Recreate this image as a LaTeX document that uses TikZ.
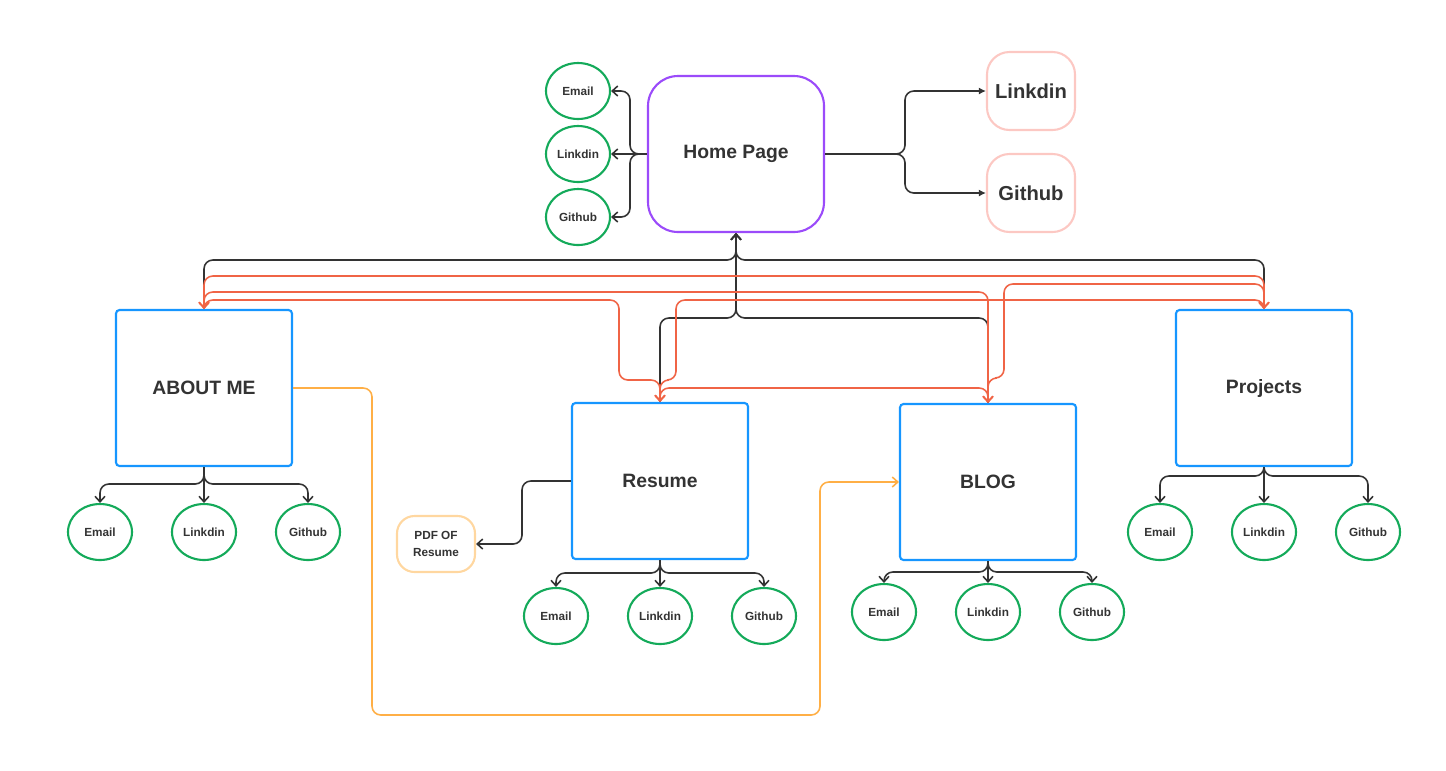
\documentclass[tikz,border=0pt]{standalone}
\usepackage{fontspec}
\setmainfont{Liberation Sans}
\usepackage{xcolor}
\usetikzlibrary{arrows.meta,shapes.geometric}
\definecolor{pageblue}{RGB}{22,150,255}
\definecolor{homepurple}{RGB}{155,75,250}
\definecolor{circgreen}{RGB}{20,170,90}
\definecolor{linkred}{RGB}{240,100,70}
\definecolor{softpink}{RGB}{252,200,195}
\definecolor{softorange}{RGB}{255,215,160}
\definecolor{lineorange}{RGB}{255,175,70}
\definecolor{textgray}{RGB}{51,51,51}

\begin{document}
\begin{tikzpicture}[>={Straight Barb[length=1.1mm,width=2mm]},
	every node/.style={text=textgray},
	pagebox/.style={draw=pageblue,line width=1.2pt,rounded corners=2pt,minimum width=3.52cm,minimum height=3.12cm,font=\bfseries\fontsize{11}{13}\selectfont},
	homebox/.style={draw=homepurple,line width=1.2pt,rounded corners=0.6cm,minimum width=3.52cm,minimum height=3.12cm,font=\bfseries\fontsize{11}{13}\selectfont},
	subcirc/.style={ellipse,draw=circgreen,line width=1.2pt,minimum width=1.28cm,minimum height=1.12cm,inner sep=0pt,font=\bfseries\fontsize{6.7}{8}\selectfont},
	socialbox/.style={draw=softpink,line width=1.2pt,rounded corners=0.45cm,minimum width=1.76cm,minimum height=1.56cm,font=\bfseries\fontsize{11.5}{13}\selectfont},
	pdfbox/.style={draw=softorange,line width=1.2pt,rounded corners=0.35cm,minimum width=1.56cm,minimum height=1.12cm,align=center,font=\bfseries\fontsize{6.7}{9.7}\selectfont},
	wire/.style={draw=textgray,line width=0.9pt,rounded corners=5pt},
	redwire/.style={draw=linkred,line width=0.9pt,rounded corners=5pt},
	orangewire/.style={draw=lineorange,line width=0.9pt,rounded corners=5pt}]
	\useasboundingbox (0,0) rectangle (28.92,-15.4);

	% home page and its links
	\node[homebox] (home) at (14.72,-3.08) {Home Page};
	\node[subcirc] (homemail) at (11.56,-1.82) {Email};
	\node[subcirc] (homelink) at (11.56,-3.08) {Linkdin};
	\node[subcirc] (homegit) at (11.56,-4.34) {Github};
	\node[socialbox] (socialin) at (20.62,-1.82) {Linkdin};
	\node[socialbox] (socialgit) at (20.62,-3.86) {Github};
	\draw[wire,->] (home.west) -- (12.6,-3.08) |- (homemail.east);
	\draw[wire,->] (home.west) -- (homelink.east);
	\draw[wire,->] (home.west) -- (12.6,-3.08) |- (homegit.east);
	\draw[wire,-{Latex[length=1.4mm,width=1.4mm]}] (home.east) -- (18.1,-3.08) |- (socialin.west);
	\draw[wire,-{Latex[length=1.4mm,width=1.4mm]}] (home.east) -- (18.1,-3.08) |- (socialgit.west);

	% pages
	\node[pagebox] (about) at (4.08,-7.76) {ABOUT ME};
	\node[pagebox] (resume) at (13.2,-9.62) {Resume};
	\node[pagebox] (blog) at (19.76,-9.64) {BLOG};
	\node[pagebox] (proj) at (25.28,-7.76) {Projects};
	\node[pdfbox] (pdf) at (8.72,-10.88) {PDF OF\\Resume};

	% back to home
	\draw[wire,->] (about.north) |- (14.72,-5.2) -- (home.south);
	\draw[wire,->] (proj.north) |- (14.72,-5.2) -- (home.south);
	\draw[wire,->] (resume.north) |- (14.72,-6.36) -- (home.south);
	\draw[wire,->] (blog.north) |- (14.72,-6.36) -- (home.south);

	% between pages
	\draw[redwire,<->] (proj.north) -- (25.28,-5.52) -| (about.north);
	\draw[redwire,<->] (blog.north) -- (19.76,-5.84) -| (about.north);
	\draw[redwire,<->] (resume.north) -- (13.2,-7.6) -| (12.38,-6.0) -| (about.north);
	\draw[redwire,<->] (resume.north) -- (13.2,-7.6) -| (13.52,-6.0) -| (proj.north);
	\draw[redwire,<->] (blog.north) -- (19.76,-7.56) -| (20.08,-5.68) -| (proj.north);
	\draw[redwire,<->] (resume.north) -- (13.2,-7.76) -| (blog.north);

	\draw[orangewire,->] (about.east) -| (7.44,-14.3) -| (16.4,-9.64) -- (blog.west);
	\draw[wire,->] (resume.west) -- (10.44,-9.62) |- (pdf.east);

	% contact circles under each page
	\foreach \pg/\cx/\cy/\by in {about/4.08/-10.64/-9.68, resume/13.2/-12.32/-11.46, blog/19.76/-12.24/-11.44, proj/25.28/-10.64/-9.52}{
		\node[subcirc] (\pg-mail) at (\cx-2.08,\cy) {Email};
		\node[subcirc] (\pg-link) at (\cx,\cy) {Linkdin};
		\node[subcirc] (\pg-git) at (\cx+2.08,\cy) {Github};
		\draw[wire,->] (\pg.south) -- (\cx,\by) -| (\pg-mail.north);
		\draw[wire,->] (\pg.south) -- (\pg-link.north);
		\draw[wire,->] (\pg.south) -- (\cx,\by) -| (\pg-git.north);
	}
\end{tikzpicture}
\end{document}
